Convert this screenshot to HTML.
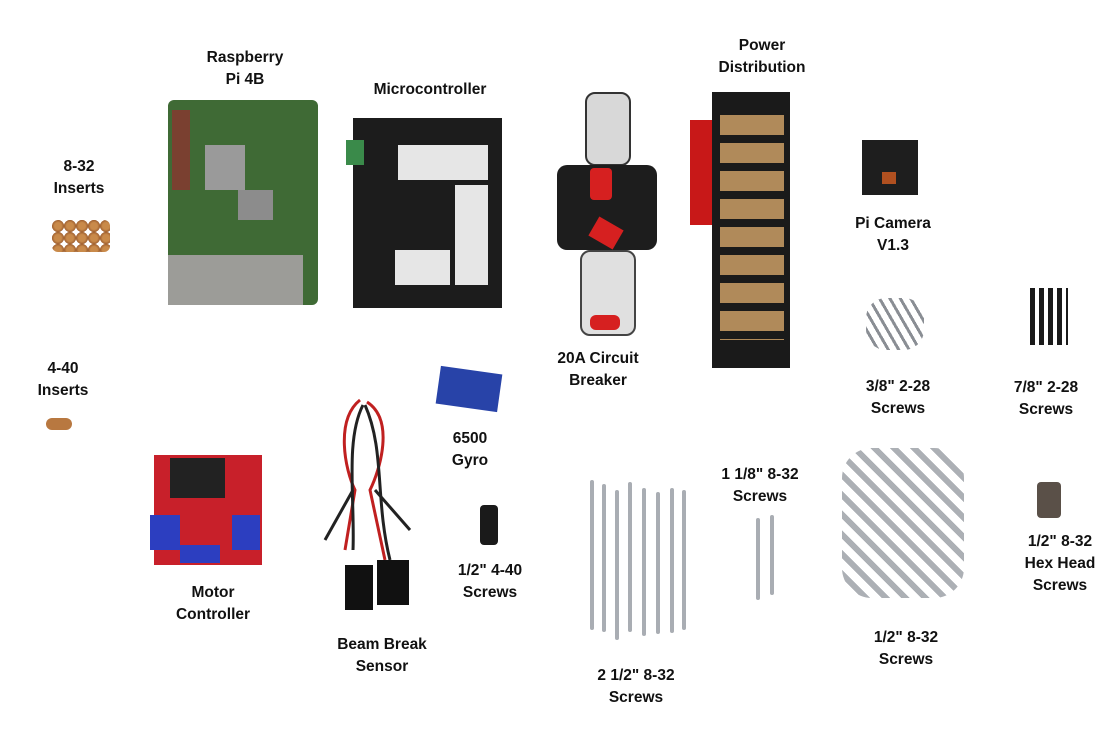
<!DOCTYPE html>
<html><head><meta charset="utf-8"><style>
body{margin:0;width:1110px;height:733px;background:#fff;position:relative;overflow:hidden;font-family:"Liberation Sans",sans-serif}
.l{position:absolute;font-weight:bold;font-size:15.5px;line-height:22px;text-align:center;color:#111;transform:translateX(-50%);white-space:nowrap}
.a{position:absolute}
.s{position:absolute;background:#a9adb3;width:4px;border-radius:2px}
</style></head><body>
<div class="l" style="left:79px;top:156px">8-32<br>Inserts</div>
<div class="l" style="left:245px;top:47px">Raspberry<br>Pi 4B</div>
<div class="l" style="left:430px;top:79px">Microcontroller</div>
<div class="l" style="left:762px;top:35px">Power<br>Distribution</div>
<div class="l" style="left:893px;top:213px">Pi Camera<br>V1.3</div>
<div class="l" style="left:598px;top:348px">20A Circuit<br>Breaker</div>
<div class="l" style="left:63px;top:358px">4-40<br>Inserts</div>
<div class="l" style="left:898px;top:376px">3/8" 2-28<br>Screws</div>
<div class="l" style="left:1046px;top:377px">7/8" 2-28<br>Screws</div>
<div class="l" style="left:470px;top:428px">6500<br>Gyro</div>
<div class="l" style="left:760px;top:464px">1 1/8" 8-32<br>Screws</div>
<div class="l" style="left:1060px;top:531px">1/2" 8-32<br>Hex Head<br>Screws</div>
<div class="l" style="left:213px;top:582px">Motor<br>Controller</div>
<div class="l" style="left:490px;top:560px">1/2" 4-40<br>Screws</div>
<div class="l" style="left:382px;top:634px">Beam Break<br>Sensor</div>
<div class="l" style="left:906px;top:627px">1/2" 8-32<br>Screws</div>
<div class="l" style="left:636px;top:665px">2 1/2" 8-32<br>Screws</div>

<!-- Raspberry Pi -->
<div class="a" style="left:168px;top:100px;width:150px;height:205px;background:#3f6a35;border-radius:6px"></div>
<div class="a" style="left:205px;top:145px;width:40px;height:45px;background:#9a9a9a"></div>
<div class="a" style="left:238px;top:190px;width:35px;height:30px;background:#8c8c8c"></div>
<div class="a" style="left:168px;top:255px;width:135px;height:50px;background:#9c9c98"></div>
<div class="a" style="left:172px;top:110px;width:18px;height:80px;background:#7a4030"></div>
<!-- Microcontroller -->
<div class="a" style="left:353px;top:118px;width:149px;height:190px;background:#1c1c1c"></div>
<div class="a" style="left:398px;top:145px;width:90px;height:35px;background:#e6e6e6"></div>
<div class="a" style="left:455px;top:185px;width:33px;height:100px;background:#e6e6e6"></div>
<div class="a" style="left:395px;top:250px;width:55px;height:35px;background:#e6e6e6"></div>
<div class="a" style="left:346px;top:140px;width:18px;height:25px;background:#3a8a4a"></div>
<!-- Breaker -->
<div class="a" style="left:585px;top:92px;width:42px;height:70px;background:#d8d8d8;border:2px solid #333;border-radius:10px"></div>
<div class="a" style="left:557px;top:165px;width:100px;height:85px;background:#1d1d1d;border-radius:10px"></div>
<div class="a" style="left:590px;top:168px;width:22px;height:32px;background:#d62020;border-radius:4px"></div>
<div class="a" style="left:592px;top:222px;width:28px;height:22px;background:#d62020;transform:rotate(30deg)"></div>
<div class="a" style="left:580px;top:250px;width:52px;height:82px;background:#e0e0e0;border:2px solid #444;border-radius:10px"></div>
<div class="a" style="left:590px;top:315px;width:30px;height:15px;background:#d62020;border-radius:6px"></div>
<!-- Power distribution -->
<div class="a" style="left:690px;top:120px;width:30px;height:105px;background:#c81818"></div>
<div class="a" style="left:712px;top:92px;width:78px;height:276px;background:#1a1a1a"></div>
<div class="a" style="left:720px;top:115px;width:64px;height:225px;background:repeating-linear-gradient(#b08a5a 0 20px,#1a1a1a 20px 28px)"></div>
<!-- Pi cam -->
<div class="a" style="left:862px;top:140px;width:56px;height:55px;background:#1e1e1e"></div>
<div class="a" style="left:882px;top:172px;width:14px;height:12px;background:#b05020"></div>
<!-- inserts -->
<div class="a" style="left:52px;top:220px;width:58px;height:32px;background:radial-gradient(circle,#c98a4a 40%,#a06030 70%,transparent 72%);background-size:12px 12px;border-radius:6px"></div>
<div class="a" style="left:46px;top:418px;width:26px;height:12px;background:#b87840;border-radius:6px"></div>
<!-- gyro -->
<div class="a" style="left:438px;top:370px;width:62px;height:38px;background:#2843a8;transform:rotate(8deg)"></div>
<!-- motor controller -->
<div class="a" style="left:154px;top:455px;width:108px;height:110px;background:#c8202a"></div>
<div class="a" style="left:170px;top:458px;width:55px;height:40px;background:#222"></div>
<div class="a" style="left:150px;top:515px;width:30px;height:35px;background:#2c3ec0"></div>
<div class="a" style="left:180px;top:545px;width:40px;height:18px;background:#2c3ec0"></div>
<div class="a" style="left:232px;top:515px;width:28px;height:35px;background:#2c3ec0"></div>
<!-- beam break -->
<svg class="a" style="left:315px;top:380px" width="110" height="240"><g fill="none" stroke-width="3"><path d="M45 20 C20 40 30 90 40 110 L30 170" stroke="#c02020"/><path d="M52 22 C80 40 65 90 55 110 L70 180" stroke="#c02020"/><path d="M48 25 C30 60 40 120 38 170" stroke="#222"/><path d="M50 25 C70 70 60 120 75 180" stroke="#222"/><path d="M38 110 L10 160" stroke="#222"/><path d="M60 110 L95 150" stroke="#222"/></g><rect x="30" y="185" width="28" height="45" fill="#111"/><rect x="62" y="180" width="32" height="45" fill="#111"/></svg>
<!-- 4-40 screws -->
<div class="a" style="left:480px;top:505px;width:18px;height:40px;background:#1a1a1a;border-radius:4px"></div>
<!-- 2.5 screws -->
<div class="s" style="left:590px;top:480px;height:150px"></div><div class="s" style="left:602px;top:484px;height:148px"></div><div class="s" style="left:615px;top:490px;height:150px"></div><div class="s" style="left:628px;top:482px;height:150px"></div><div class="s" style="left:642px;top:488px;height:148px"></div><div class="s" style="left:656px;top:492px;height:142px"></div><div class="s" style="left:670px;top:488px;height:145px"></div><div class="s" style="left:682px;top:490px;height:140px"></div>
<!-- 1 1/8 -->
<div class="s" style="left:756px;top:518px;height:82px"></div><div class="s" style="left:770px;top:515px;height:80px"></div>
<!-- 1/2 8-32 cluster -->
<div class="a" style="left:842px;top:448px;width:122px;height:150px;background:repeating-linear-gradient(45deg,#9ea2a8 0 6px,#fff 6px 14px);border-radius:30px;opacity:.85"></div>
<!-- 3/8 -->
<div class="a" style="left:866px;top:298px;width:58px;height:52px;background:repeating-linear-gradient(60deg,#8a8e94 0 3px,#fff 3px 9px);border-radius:20px"></div>
<!-- 7/8 -->
<div class="a" style="left:1030px;top:288px;width:38px;height:57px;background:repeating-linear-gradient(90deg,#1a1a1a 0 5px,#fff 5px 9px)"></div>
<!-- hex -->
<div class="a" style="left:1037px;top:482px;width:24px;height:36px;background:#5a5048;border-radius:4px"></div>
</body></html>
